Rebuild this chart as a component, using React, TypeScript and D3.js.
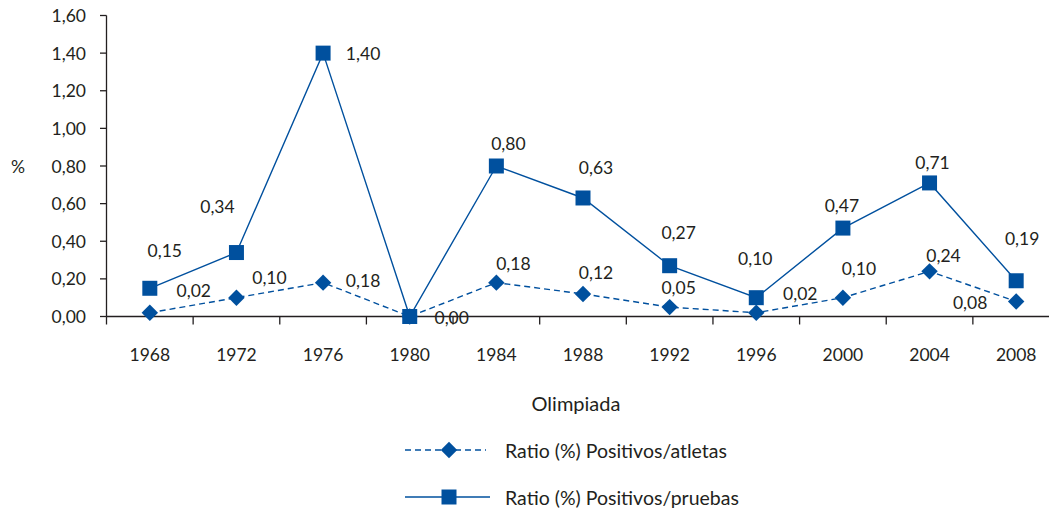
import * as d3 from 'd3';
import React, { useEffect, useRef } from 'react';

// Olimpiadas (eje X)
const years = ['1968', '1972', '1976', '1980', '1984', '1988', '1992', '1996', '2000', '2004', '2008'];
// Ratio (%) Positivos/atletas
const atletas = [0.02, 0.10, 0.18, 0.00, 0.18, 0.12, 0.05, 0.02, 0.10, 0.24, 0.08];
// Ratio (%) Positivos/pruebas
const pruebas = [0.15, 0.34, 1.40, 0.00, 0.80, 0.63, 0.27, 0.10, 0.47, 0.71, 0.19];
const yTicks = [0, 0.2, 0.4, 0.6, 0.8, 1.0, 1.2, 1.4, 1.6];

// manual label nudges (like the hand-placed labels of the original)
const nudgeAtletas = [[44, -22], [33, -20], [40, -2], [42, 1], [17, -19], [13, -21], [9, -20], [44, -19], [16, -29], [14, -16], [-46, 1]];
const nudgePruebas = [[15, -38], [-19, -46], [40, 0], [42, 1], [12, -23], [13, -30], [9, -33], [-1, -39], [-1, -23], [3, -20], [6, -42]];

const W = 1049;
const H = 510;
const BLUE = '#00509E';
const INK = '#231F20';
const FONT = 'Lato, "Open Sans", sans-serif';

const fmt = (v: number) => v.toFixed(2).replace('.', ',');

export default function App() {
    const ref = useRef<SVGSVGElement>(null);

    useEffect(() => {
        const svg = d3.select(ref.current);
        svg.selectAll('*').remove();

        const x = d3.scaleBand().domain(years).range([106.5, 1059.5]).padding(0);
        const y = d3.scaleLinear().domain([0, 1.6]).range([316.5, 15.5]);
        const cx = (d: string) => (x(d) as number) + x.bandwidth() / 2;

        const g = svg.append('g')
            .style('font-family', FONT)
            .style('font-size', '17.5px')
            .attr('fill', INK);

        // y axis
        g.append('line')
            .attr('x1', 106.5).attr('x2', 106.5)
            .attr('y1', y(1.6)).attr('y2', y(0))
            .attr('stroke', INK).attr('stroke-width', 1.3);
        yTicks.forEach(t => {
            g.append('line')
                .attr('x1', 100).attr('x2', 106.5)
                .attr('y1', y(t)).attr('y2', y(t))
                .attr('stroke', INK).attr('stroke-width', 1.3);
            g.append('text')
                .attr('x', 86).attr('y', y(t))
                .attr('text-anchor', 'end')
                .attr('dominant-baseline', 'central')
                .text(fmt(t));
        });
        g.append('text')
            .attr('x', 18).attr('y', 166)
            .attr('text-anchor', 'middle')
            .attr('dominant-baseline', 'central')
            .text('%');

        // x axis
        g.append('line')
            .attr('x1', 106.5).attr('x2', W)
            .attr('y1', y(0)).attr('y2', y(0))
            .attr('stroke', INK).attr('stroke-width', 1.3);
        years.forEach(d => {
            g.append('line')
                .attr('x1', x(d) as number).attr('x2', x(d) as number)
                .attr('y1', y(0)).attr('y2', y(0) + 8)
                .attr('stroke', INK).attr('stroke-width', 1.3);
            g.append('text')
                .attr('x', cx(d)).attr('y', 354)
                .attr('text-anchor', 'middle')
                .attr('dominant-baseline', 'central')
                .text(d);
        });
        g.append('text')
            .attr('x', 576).attr('y', 403)
            .attr('text-anchor', 'middle')
            .attr('dominant-baseline', 'central')
            .style('font-size', '20px')
            .text('Olimpiada');

        const line = d3.line<number>()
            .x((v, i) => cx(years[i]))
            .y(v => y(v));

        const square = d3.symbol().type(d3.symbolSquare).size(225)();
        const diamond = d3.symbol().type(d3.symbolSquare).size(135)();

        // pruebas series (solid, squares)
        g.append('path')
            .attr('d', line(pruebas))
            .attr('fill', 'none')
            .attr('stroke', BLUE)
            .attr('stroke-width', 1.4);

        // atletas series (dashed, diamonds)
        g.append('path')
            .attr('d', line(atletas))
            .attr('fill', 'none')
            .attr('stroke', BLUE)
            .attr('stroke-width', 1.4)
            .attr('stroke-dasharray', '6,4');

        g.selectAll('.dia')
            .data(atletas)
            .enter()
            .append('path')
            .attr('d', diamond)
            .attr('transform', (v, i) => 'translate(' + cx(years[i]) + ',' + y(v) + ') rotate(45)')
            .attr('fill', BLUE);

        g.selectAll('.sq')
            .data(pruebas)
            .enter()
            .append('path')
            .attr('d', square)
            .attr('transform', (v, i) => 'translate(' + cx(years[i]) + ',' + y(v) + ')')
            .attr('fill', BLUE);

        // data labels
        atletas.forEach((v, i) => {
            g.append('text')
                .attr('x', cx(years[i]) + nudgeAtletas[i][0])
                .attr('y', y(v) + nudgeAtletas[i][1])
                .attr('text-anchor', 'middle')
                .attr('dominant-baseline', 'central')
                .text(fmt(v));
        });
        pruebas.forEach((v, i) => {
            if (i === 3) return; // 0,00 drawn once
            g.append('text')
                .attr('x', cx(years[i]) + nudgePruebas[i][0])
                .attr('y', y(v) + nudgePruebas[i][1])
                .attr('text-anchor', 'middle')
                .attr('dominant-baseline', 'central')
                .text(fmt(v));
        });

        // legend
        const legend = [
            { label: 'Ratio (%) Positivos/atletas', y: 450, dash: '6,4', mark: diamond, rot: 45, x2: 486 },
            { label: 'Ratio (%) Positivos/pruebas', y: 497, dash: null, mark: square, rot: 0, x2: 490 },
        ];
        legend.forEach(l => {
            g.append('line')
                .attr('x1', 405).attr('x2', l.x2)
                .attr('y1', l.y).attr('y2', l.y)
                .attr('stroke', BLUE)
                .attr('stroke-width', 1.4)
                .attr('stroke-dasharray', l.dash);
            g.append('path')
                .attr('d', l.mark)
                .attr('transform', 'translate(449,' + l.y + ') rotate(' + l.rot + ')')
                .attr('fill', BLUE);
            g.append('text')
                .attr('x', 505).attr('y', l.y)
                .attr('dominant-baseline', 'central')
                .style('font-size', '19.5px')
                .text(l.label);
        });
    }, []);

    return (
        <svg ref={ref} width={W} height={H}
            style={{ position: 'absolute', left: 0, top: 0, background: '#fff' }} />
    );
}
